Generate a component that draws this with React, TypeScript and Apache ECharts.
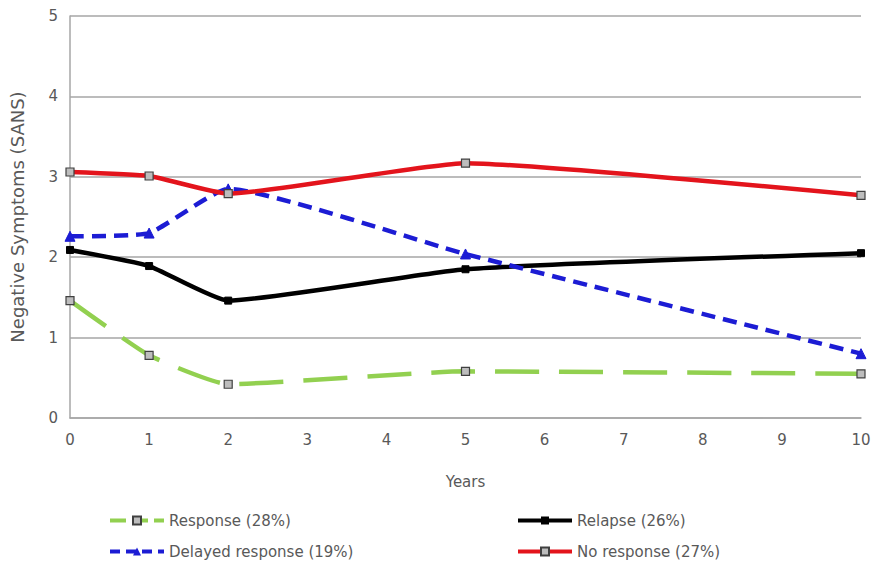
import React, { useEffect, useRef } from "react";
import * as echarts from "echarts";

const years = [0, 1, 2, 5, 10];
const responseVals = [1.46, 0.78, 0.42, 0.58, 0.55];
const relapseVals = [2.09, 1.89, 1.46, 1.85, 2.05];
const delayedVals = [2.26, 2.3, 2.85, 2.04, 0.8];
const noResponseVals = [3.06, 3.01, 2.79, 3.17, 2.77];
const seriesNames = ["Response (28%)", "Relapse (26%)", "Delayed response (19%)", "No response (27%)"];

const pairs = (vals: number[]) => years.map((x, i) => [x, vals[i]]);

export default function App() {
  const ref = useRef<HTMLDivElement>(null);
  useEffect(() => {
    document.body.style.margin = "0";
    const chart = echarts.init(ref.current!, null, { renderer: "svg" });
    const font = "DejaVu Sans, Verdana, sans-serif";
    const textColor = "#595959";
    const green = "#92d050";
    const blue = "#1c1cd4";
    const red = "#e3141c";
    const legendText = { color: textColor, fontSize: 15, fontFamily: font };
    chart.setOption({
      animation: false,
      textStyle: { fontFamily: font },
      grid: { left: 70, right: 13, top: 16, bottom: 143, containLabel: false },
      xAxis: {
        type: "value",
        min: 0,
        max: 10,
        interval: 1,
        name: "Years",
        nameLocation: "middle",
        nameGap: 56,
        nameTextStyle: { color: textColor, fontSize: 15, fontFamily: font },
        axisLine: { show: true, lineStyle: { color: "#a6a6a6", width: 1.5 } },
        axisTick: { show: false },
        axisLabel: { color: textColor, fontSize: 15, margin: 14, fontFamily: font },
        splitLine: { show: false },
      },
      yAxis: {
        type: "value",
        min: 0,
        max: 5,
        interval: 1,
        name: "Negative Symptoms (SANS)",
        nameLocation: "middle",
        nameGap: 44,
        nameTextStyle: { color: textColor, fontSize: 18, fontFamily: font },
        axisLine: { show: true, lineStyle: { color: "#a6a6a6", width: 1.5 } },
        axisTick: { show: false },
        axisLabel: { color: textColor, fontSize: 15, margin: 12, fontFamily: font },
        splitLine: { show: true, lineStyle: { color: "#a6a6a6", width: 1.5 } },
      },
      legend: [
        {
          orient: "vertical",
          left: 108,
          top: 513,
          padding: 0,
          itemWidth: 54,
          itemHeight: 10,
          itemGap: 16,
          data: [
            { name: seriesNames[0], lineStyle: { width: 4, color: green, type: [16, 6] } },
            { name: seriesNames[2], lineStyle: { width: 4, color: blue, type: [10, 6] } },
          ],
          textStyle: legendText,
        },
        {
          orient: "vertical",
          left: 516,
          top: 513,
          padding: 0,
          itemWidth: 54,
          itemHeight: 10,
          itemGap: 16,
          data: [
            { name: seriesNames[1], lineStyle: { width: 4, color: "#000000" } },
            { name: seriesNames[3], lineStyle: { width: 4, color: red } },
          ],
          textStyle: legendText,
        },
      ],
      series: [
        {
          name: seriesNames[0],
          type: "line",
          smooth: 0.15,
          data: pairs(responseVals),
          symbol: "rect",
          symbolSize: 8,
          lineStyle: { color: green, width: 4.5, type: [44, 20] },
          itemStyle: { color: "#bdbdbd", borderColor: "#404040", borderWidth: 1.2 },
          z: 2,
        },
        {
          name: seriesNames[1],
          type: "line",
          smooth: 0.15,
          data: pairs(relapseVals),
          symbol: "rect",
          symbolSize: 7,
          lineStyle: { color: "#000000", width: 4.5 },
          itemStyle: { color: "#000000", borderColor: "#000000" },
          z: 3,
        },
        {
          name: seriesNames[2],
          type: "line",
          smooth: 0.15,
          data: pairs(delayedVals),
          symbol: "triangle",
          symbolSize: 10,
          lineStyle: { color: blue, width: 4.5, type: [14, 8] },
          itemStyle: { color: blue, borderColor: blue },
          z: 4,
        },
        {
          name: seriesNames[3],
          type: "line",
          smooth: 0.15,
          data: pairs(noResponseVals),
          symbol: "rect",
          symbolSize: 8,
          lineStyle: { color: red, width: 4.5 },
          itemStyle: { color: "#bdbdbd", borderColor: "#404040", borderWidth: 1.2 },
          z: 5,
        },
      ],
    });
    return () => chart.dispose();
  }, []);
  return <div ref={ref} style={{ width: 874, height: 561 }} />;
}
